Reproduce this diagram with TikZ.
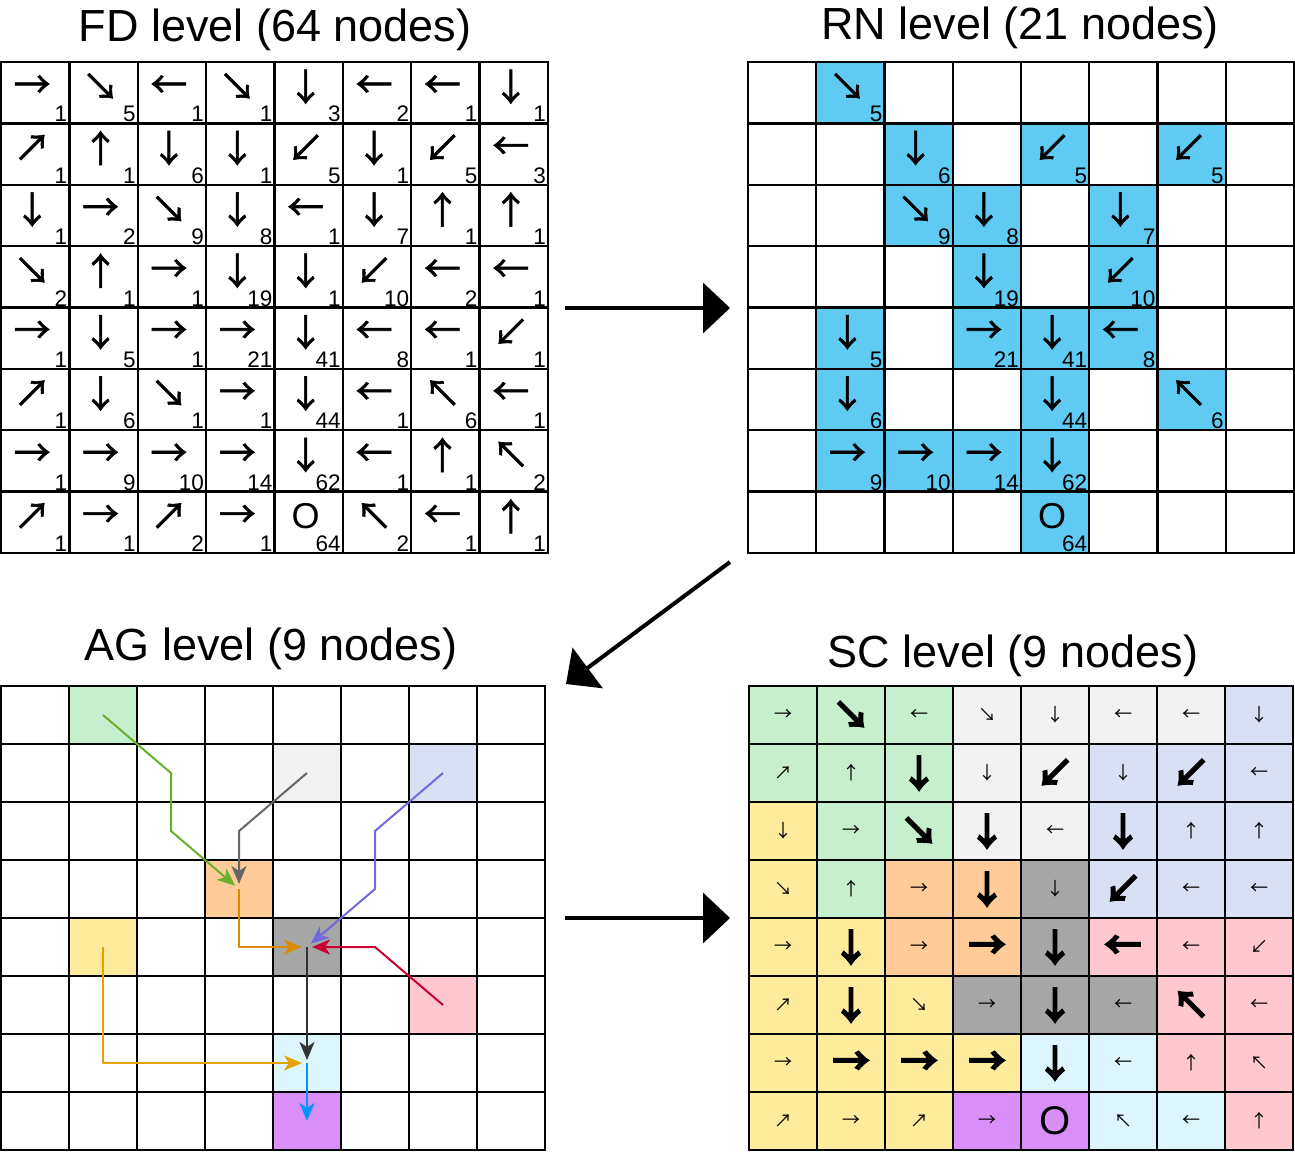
\documentclass[tikz,border=0pt]{standalone}
\usepackage{fontspec}
\setmainfont{Liberation Sans}
\newfontfamily\arrowfont{Noto Sans CJK SC}[FakeBold=1.5]
\newfontfamily\arrowthin{Noto Sans CJK SC}
\newfontfamily\arrowbold{Noto Sans CJK SC}[FakeBold=7]
\usepackage{xcolor}
\usepackage{tikz}
\usetikzlibrary{arrows.meta}
\definecolor{rnblue}{HTML}{5FCBF3}
\definecolor{gn}{HTML}{C6EFCE}
\definecolor{lg}{HTML}{F2F2F2}
\definecolor{lv}{HTML}{DAE0F4}
\definecolor{ye}{HTML}{FFEB9C}
\definecolor{pe}{HTML}{FFCC99}
\definecolor{dg}{HTML}{A6A6A6}
\definecolor{pk}{HTML}{FFC7CE}
\definecolor{cy}{HTML}{DDF5FC}
\definecolor{pu}{HTML}{DA8FF8}
\definecolor{lkgreen}{HTML}{6AAF2B}
\definecolor{lkgray}{HTML}{666666}
\definecolor{lkslate}{HTML}{7069E0}
\definecolor{lkorange}{HTML}{D98B00}
\definecolor{lkamber}{HTML}{E6A100}
\definecolor{lkred}{HTML}{C8002F}
\definecolor{lkdark}{HTML}{333333}
\definecolor{lkblue}{HTML}{0096FF}
\tikzset{
  gridline/.style={draw=black, line width=2.4pt, line cap=rect},
  leveltitle/.style={font=\fontsize{45}{54}\selectfont, anchor=base, inner sep=0pt},
  fdarr/.style={font=\arrowfont\fontsize{37}{37}\selectfont, inner sep=0pt},
  fdnum/.style={font=\fontsize{22.5}{27}\selectfont, anchor=base east, inner sep=0pt},
  scs/.style={font=\arrowthin\fontsize{18}{18}\selectfont, inner sep=0pt},
  scb/.style={font=\arrowbold\fontsize{36}{36}\selectfont, inner sep=0pt},
  sco/.style={font=\fontsize{40}{40}\selectfont, inner sep=0pt},
  link/.style={line width=2pt, line join=round, shorten >=5pt, -{Stealth[length=18pt,width=15pt,inset=5pt]}},
  bigarrow/.style={draw=black, line width=4pt, -{Triangle[length=27pt,width=50pt]}},
}
\newcommand\cellO{{\rmfamily\fontsize{36}{36}\selectfont O}}
\newcommand\levelgrid[4]{% x0, y0, cell width, cell height
  \foreach \i in {0,...,8}{
    \draw[gridline] ({#1+#3*\i},#2) -- ({#1+#3*\i},{#2+8*#4});
    \draw[gridline] (#1,{#2+#4*\i}) -- ({#1+8*#3},{#2+#4*\i});
  }}

\begin{document}
\begin{tikzpicture}[x=1pt,y=-1pt]
  \useasboundingbox (0,0) rectangle (1295,1152);
  % titles
  \node[leveltitle] (fdtitle) at (275,41) {FD level (64 nodes)};
  \node[leveltitle] (rntitle) at (1020,39) {RN level (21 nodes)};
  \node[leveltitle] (agtitle) at (271,660) {AG level (9 nodes)};
  \node[leveltitle] (sctitle) at (1013,667) {SC level (9 nodes)};

  % FD level
  \def\fw{68.375}\def\fh{61.375}
  \foreach \fdrow [count=\r from 0] in {
    {→/1,↘/5,←/1,↘/1,↓/3,←/2,←/1,↓/1},
    {↗/1,↑/1,↓/6,↓/1,↙/5,↓/1,↙/5,←/3},
    {↓/1,→/2,↘/9,↓/8,←/1,↓/7,↑/1,↑/1},
    {↘/2,↑/1,→/1,↓/19,↓/1,↙/10,←/2,←/1},
    {→/1,↓/5,→/1,→/21,↓/41,←/8,←/1,↙/1},
    {↗/1,↓/6,↘/1,→/1,↓/44,←/1,↖/6,←/1},
    {→/1,→/9,→/10,→/14,↓/62,←/1,↑/1,↖/2},
    {↗/1,→/1,↗/2,→/1,\cellO/64,↖/2,←/1,↑/1}}{
    \foreach \a/\n [count=\c from 0] in \fdrow {
      \node[fdarr] (fd-\c-\r) at ({1+\fw*(\c+0.5)-3},{62+\fh*(\r+0.5)-6}) {\a};
      \node[fdnum] (fdn-\c-\r) at ({1+\fw*(\c+1)-2},{62+\fh*(\r+1)-1.5}) {\n};
    }
  }
  \levelgrid{1}{62}{\fw}{\fh}

  % RN level
  \def\rw{68.25}
  \foreach \c/\r/\a/\n in {1/0/↘/5, 2/1/↓/6, 4/1/↙/5, 6/1/↙/5, 2/2/↘/9, 3/2/↓/8,
      5/2/↓/7, 3/3/↓/19, 5/3/↙/10, 1/4/↓/5, 3/4/→/21, 4/4/↓/41, 5/4/←/8,
      1/5/↓/6, 4/5/↓/44, 6/5/↖/6, 1/6/→/9, 2/6/→/10, 3/6/→/14, 4/6/↓/62, 4/7/\cellO/64}{
    \fill[rnblue] ({748+\rw*\c},{62+\fh*\r}) rectangle ++(\rw,\fh);
    \node[fdarr] (rn-\c-\r) at ({748+\rw*(\c+0.5)-3},{62+\fh*(\r+0.5)-6}) {\a};
    \node[fdnum] (rnn-\c-\r) at ({748+\rw*(\c+1)-2},{62+\fh*(\r+1)-1.5}) {\n};
  }
  \levelgrid{748}{62}{\rw}{\fh}

  % AG level
  \def\aw{68}\def\ah{58}
  \foreach \c/\r/\k in {1/0/gn, 4/1/lg, 6/1/lv, 3/3/pe, 1/4/ye, 4/4/dg, 6/5/pk, 4/6/cy, 4/7/pu}
    \fill[fill=\k] ({1+\aw*\c},{686+\ah*\r}) rectangle ++(\aw,\ah);
  \levelgrid{1}{686}{\aw}{\ah}
  \foreach \c in {0,...,7}
    \foreach \r in {0,...,7}
      \coordinate (ag-\c-\r) at ({1+\aw*(\c+0.5)},{686+\ah*(\r+0.5)});
  \draw[link, draw=lkgreen] (ag-1-0) -- (ag-2-1) -- (ag-2-2) -- (ag-3-3);
  \draw[link, draw=lkgray] (ag-4-1) -- (ag-3-2) -- (ag-3-3);
  \draw[link, draw=lkslate] (ag-6-1) -- (ag-5-2) -- (ag-5-3) -- (ag-4-4);
  \draw[link, draw=lkorange] (ag-3-3) -- (ag-3-4) -- (ag-4-4);
  \draw[link, draw=lkred] (ag-6-5) -- (ag-5-4) -- (ag-4-4);
  \draw[link, draw=lkdark, shorten >=3pt] (ag-4-4) -- (ag-4-6);
  \draw[link, draw=lkamber] (ag-1-4) -- (ag-1-6) -- (ag-4-6);
  \draw[link, draw=lkblue, shorten >=0pt] (ag-4-6) -- (ag-4-7);

  % SC level
  \foreach \scrow [count=\r from 0] in {
    {gn/→/s,gn/↘/b,gn/←/s,lg/↘/s,lg/↓/s,lg/←/s,lg/←/s,lv/↓/s},
    {gn/↗/s,gn/↑/s,gn/↓/b,lg/↓/s,lg/↙/b,lv/↓/s,lv/↙/b,lv/←/s},
    {ye/↓/s,gn/→/s,gn/↘/b,lg/↓/b,lg/←/s,lv/↓/b,lv/↑/s,lv/↑/s},
    {ye/↘/s,gn/↑/s,pe/→/s,pe/↓/b,dg/↓/s,lv/↙/b,lv/←/s,lv/←/s},
    {ye/→/s,ye/↓/b,pe/→/s,pe/→/b,dg/↓/b,pk/←/b,pk/←/s,pk/↙/s},
    {ye/↗/s,ye/↓/b,ye/↘/s,dg/→/s,dg/↓/b,dg/←/s,pk/↖/b,pk/←/s},
    {ye/→/s,ye/→/b,ye/→/b,ye/→/b,cy/↓/b,cy/←/s,pk/↑/s,pk/↖/s},
    {ye/↗/s,ye/→/s,ye/↗/s,pu/→/s,pu/O/o,cy/↖/s,cy/←/s,pk/↑/s}}{
    \foreach \k/\a/\s [count=\c from 0] in \scrow {
      \fill[fill=\k] ({749+\aw*\c},{686+\ah*\r}) rectangle ++(\aw,\ah);
      \node[sc\s] (sc-\c-\r) at ({749+\aw*(\c+0.5)},{686+\ah*(\r+0.5)}) {\a};
    }
  }
  \levelgrid{749}{686}{\aw}{\ah}

  % arrows between levels
  \coordinate (fd2rn-a) at (565,308);
  \coordinate (fd2rn-b) at (730,308);
  \coordinate (rn2ag-a) at (730,562);
  \coordinate (rn2ag-b) at (566,684);
  \coordinate (ag2sc-a) at (565,918);
  \coordinate (ag2sc-b) at (730,918);
  \draw[bigarrow] (fd2rn-a) -- (fd2rn-b);
  \draw[bigarrow] (rn2ag-a) -- (rn2ag-b);
  \draw[bigarrow] (ag2sc-a) -- (ag2sc-b);
\end{tikzpicture}
\end{document}
